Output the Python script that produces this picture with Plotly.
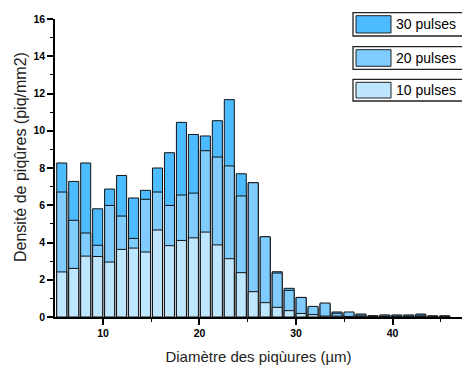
import plotly.graph_objects as go

diameter = [5.73, 6.97, 8.21, 9.45, 10.69, 11.93, 13.17, 14.41, 15.65, 16.89, 18.13,
            19.37, 20.61, 21.85, 23.09, 24.33, 25.57, 26.81, 28.05, 29.29, 30.53, 31.77,
            33.01, 34.25, 35.49, 36.73, 37.97, 39.21, 40.45, 41.69, 42.93, 44.17, 45.41]

pulses30 = [8.27, 7.28, 8.27, 5.81, 6.87, 7.60, 6.39, 6.80, 8.00, 8.82, 10.45,
            9.80, 9.72, 10.54, 11.67, 7.69, 7.20, 4.30, 2.43, 1.54, 1.05, 0.50,
            0.70, 0.27, 0.20, 0.16, 0.07, 0.10, 0.10, 0.10, 0.16, 0.05, 0.05]
pulses20 = [6.71, 5.19, 4.51, 3.85, 5.99, 5.42, 4.22, 6.32, 6.71, 5.99, 6.55,
            6.65, 8.93, 8.59, 8.11, 6.50, 7.21, 4.31, 2.36, 1.43, 1.05, 0.57,
            0.75, 0.20, 0.27, 0.10, 0.05, 0.10, 0.10, 0.10, 0.10, 0.06, 0.06]
pulses10 = [2.42, 2.61, 3.27, 3.25, 2.95, 3.63, 3.70, 3.49, 4.67, 3.83, 4.11,
            4.25, 4.56, 3.87, 3.13, 2.38, 1.36, 0.77, 0.52, 0.34, 0.19, 0.13,
            0.05, 0.05, 0.03, 0.02, 0.02, 0.03, 0.03, 0.03, 0.03, 0.02, 0.02]

series = [("30 pulses", pulses30, "#4DBBFF"),
          ("20 pulses", pulses20, "#80CCFF"),
          ("10 pulses", pulses10, "#BFE6FF")]

fig = go.Figure()
for name, vals, col in series:
    fig.add_trace(go.Bar(x=diameter, y=vals, name=name, width=1.04,
                         marker=dict(color=col, line=dict(color="#111111", width=1)),
                         showlegend=False))

# manual legend (three separate boxes)
W, H = 407.0, 298.0
def px(x):
    return (x - 55) / W
def py(y):
    return (317 - y) / H

boxes = [(12.7, 36.0), (46.7, 69.3), (79.3, 101.0)]
for (name, vals, col), (y0, y1) in zip(series, boxes):
    fig.add_shape(type="rect", xref="paper", yref="paper",
                  x0=px(353), x1=px(475), y0=py(y1), y1=py(y0),
                  line=dict(color="#222222", width=1.3), fillcolor="white", layer="above")
    fig.add_shape(type="rect", xref="paper", yref="paper",
                  x0=px(356), x1=px(391), y0=py(y1 - 3), y1=py(y0 + 3),
                  line=dict(color="#222222", width=1), fillcolor=col, layer="above")
    fig.add_annotation(text=name, xref="paper", yref="paper",
                       x=px(394), y=py((y0 + y1) / 2), xanchor="left", yanchor="middle",
                       showarrow=False, font=dict(size=14, color="black",
                                                  family="Liberation Sans, Arial"))

fig.add_annotation(text="Densité de piqûres (piq/mm2)", xref="paper", yref="paper",
                   x=px(20.5), y=py(157.5), textangle=-90, showarrow=False,
                   xanchor="center", yanchor="middle",
                   font=dict(size=16, color="#222222", family="Liberation Sans, Arial"))

fig.update_layout(
    width=462, height=365,
    margin=dict(l=55, r=0, t=19, b=48),
    barmode="overlay",
    plot_bgcolor="white", paper_bgcolor="white",
    font=dict(family="Liberation Sans, Arial", color="black"),
    xaxis=dict(range=[5.03, 47.2], showgrid=False, zeroline=False,
               showline=True, linecolor="black", linewidth=1.5,
               ticks="outside", ticklen=6, tickwidth=1.5, tickcolor="black",
               tickvals=[10, 20, 30, 40], ticktext=["<b>10</b>", "<b>20</b>", "<b>30</b>", "<b>40</b>"],
               tickfont=dict(size=10.5),
               minor=dict(tickvals=[15, 25, 35, 45], ticks="outside", ticklen=3,
                          tickwidth=1.2, tickcolor="black"),
               title=dict(text="Diamètre des piqùures (µm)", standoff=13,
                          font=dict(size=15, color="#222222"))),
    yaxis=dict(range=[0, 16], showgrid=False, zeroline=False,
               showline=True, linecolor="black", linewidth=1.5,
               ticks="outside", ticklen=6, tickwidth=1.5, tickcolor="black",
               tickvals=[0, 2, 4, 6, 8, 10, 12, 14, 16],
               ticktext=["<b>%d</b>" % v for v in [0, 2, 4, 6, 8, 10, 12, 14, 16]],
               tickfont=dict(size=10.5),
               minor=dict(tickvals=[1, 3, 5, 7, 9, 11, 13, 15], ticks="outside", ticklen=3,
                          tickwidth=1.2, tickcolor="black")),
)

fig.write_html("out.html", config={"displayModeBar": False},
               post_script="document.body.style.margin='0';document.body.style.overflow='hidden';")
